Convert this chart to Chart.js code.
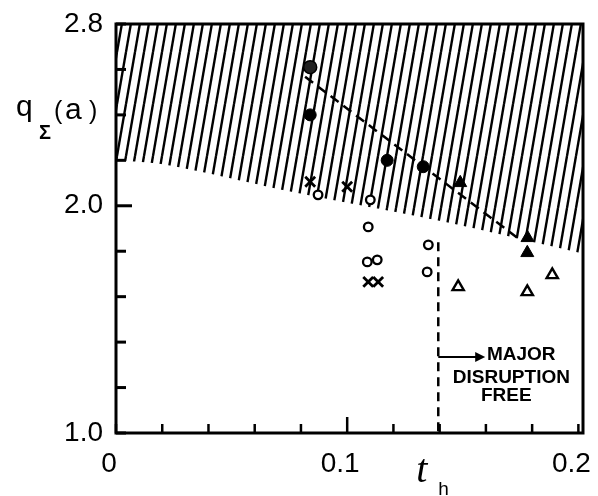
<!DOCTYPE html>
<html><head><meta charset="utf-8">
<script src="https://cdn.jsdelivr.net/npm/chart.js@4/dist/chart.umd.min.js"></script>
<style>html,body{margin:0;padding:0;background:#fff;}#wrap{width:598px;height:496px;}</style>
</head><body><div id="wrap"><canvas id="c" width="598" height="496"></canvas></div>
<script>
// ---- data ----
const xLabelValues = [0, 0.1, 0.2];
const xLabelTexts  = ['0', '0.1', '0.2'];
const yLabelValues = [1.0, 2.0, 2.8];
const yLabelTexts  = ['1.0', '2.0', '2.8'];
const hatchEdge = [{x:0,y:2.20},{x:0.022,y:2.18},{x:0.077,y:2.06},{x:0.142,y:1.93},{x:0.202,y:1.79}];
const slashedCircles = [{x:0.084,y:2.61}];
const filledCircles = [{x:0.084,y:2.40},{x:0.1173,y:2.20},{x:0.1329,y:2.172}];
const openCircles = [{x:0.0874,y:2.048},{x:0.110,y:2.026},{x:0.1091,y:1.907},{x:0.1351,y:1.828},{x:0.1087,y:1.753},{x:0.113,y:1.762},{x:0.1346,y:1.709}];
const crosses = [{x:0.084,y:2.106},{x:0.100,y:2.084},{x:0.1091,y:1.665},{x:0.1134,y:1.665}];
const filledTriangles = [{x:0.1489,y:2.101},{x:0.178,y:1.859},{x:0.1779,y:1.793}];
const openTriangles = [{x:0.148,y:1.643},{x:0.1779,y:1.621},{x:0.1887,y:1.696}];
const boundaryLine = [{x:0.0818,y:2.568},{x:0.1736,y:1.859}];
const thLine = [{x:0.1394,y:1.84},{x:0.1394,y:1.0}];
const thValue = 0.1394;
const arrow = {x0:0.1394, x1:0.1597, y:1.335};
const noteLines = [
  {text:'MAJOR', x:0.1753, y:1.343},
  {text:'DISRUPTION', x:0.171, y:1.244},
  {text:'FREE', x:0.1688, y:1.165}
];

// ---- hatch pattern ----
function makeHatch(){
  const t = document.createElement('canvas');
  t.width = 9; t.height = 52;
  const g = t.getContext('2d');
  g.strokeStyle = '#000'; g.lineWidth = 2.4;
  for (const off of [-9, 0, 9]) {
    g.beginPath(); g.moveTo(off, 52); g.lineTo(off + 9, 0); g.stroke();
  }
  return document.getElementById('c').getContext('2d').createPattern(t, 'repeat');
}
const hatch = makeHatch();

const near = (a, b) => Math.abs(a - b) < 1e-6;

const decor = {
  id: 'decor',
  afterDraw(chart) {
    const ctx = chart.ctx, a = chart.chartArea;
    const xs = chart.scales.x, ys = chart.scales.y;
    ctx.save();
    ctx.strokeStyle = '#000'; ctx.fillStyle = '#000';
    // frame
    ctx.lineWidth = 3;
    ctx.strokeRect(a.left, a.top, a.right - a.left, a.bottom - a.top);
    // inward ticks
    ctx.lineWidth = 3;
    ys.ticks.forEach(t => {
      const py = ys.getPixelForValue(t.value);
      const len = near(t.value, 2.0) ? 16 : 10;
      ctx.beginPath(); ctx.moveTo(a.left, py); ctx.lineTo(a.left + len, py); ctx.stroke();
    });
    ctx.lineWidth = 2.5;
    xs.ticks.forEach(t => {
      const px = xs.getPixelForValue(t.value);
      const len = near(t.value, 0.1) ? 16 : 9;
      ctx.beginPath(); ctx.moveTo(px, a.bottom); ctx.lineTo(px, a.bottom - len); ctx.stroke();
    });
    // y-axis title q_Σ(a)
    ctx.textBaseline = 'alphabetic'; ctx.textAlign = 'left';
    ctx.font = '30px "Liberation Sans"';
    ctx.fillText('q', 16, 116);
    ctx.font = 'bold 20px "Liberation Sans"';
    ctx.fillText('\u03A3', 39, 139);
    ctx.font = '25px "Liberation Sans"';
    ctx.fillText('(', 54, 119);
    ctx.font = '30px "Liberation Sans"';
    ctx.fillText('a', 65, 119);
    ctx.font = '25px "Liberation Sans"';
    ctx.fillText(')', 89, 119);
    // t_h label
    const thx = xs.getPixelForValue(thValue);
    ctx.font = 'italic 40px "Liberation Serif"';
    ctx.fillText('t', thx - 22, 482);
    ctx.font = '19px "Liberation Sans"';
    ctx.fillText('h', thx, 495);
    // arrow
    const ay = ys.getPixelForValue(arrow.y);
    const ax0 = xs.getPixelForValue(arrow.x0), ax1 = xs.getPixelForValue(arrow.x1);
    ctx.lineWidth = 2;
    ctx.beginPath(); ctx.moveTo(ax0, ay); ctx.lineTo(ax1 - 6, ay); ctx.stroke();
    ctx.beginPath(); ctx.moveTo(ax1, ay); ctx.lineTo(ax1 - 10, ay - 5); ctx.lineTo(ax1 - 10, ay + 5); ctx.closePath(); ctx.fill();
    // notes
    ctx.font = 'bold 19px "Liberation Sans"';
    ctx.textAlign = 'center'; ctx.textBaseline = 'middle';
    noteLines.forEach(n => ctx.fillText(n.text, xs.getPixelForValue(n.x), ys.getPixelForValue(n.y)));
    ctx.restore();
  }
};

function markers(data, style, radius, fill, bw, order) {
  return {type:'line', data, showLine:false, pointStyle:style, pointRadius:radius,
    pointBackgroundColor:fill, pointBorderColor:'#000', pointBorderWidth:bw, order};
}
function noPad(s){ s.paddingLeft = 0; s.paddingRight = 0; s.paddingTop = 0; s.paddingBottom = 0; }

new Chart(document.getElementById('c'), {
  type: 'line',
  data: {
    datasets: [
      {data: hatchEdge, borderWidth:0, borderColor:'rgba(0,0,0,0)', pointRadius:0, fill:'end', backgroundColor: hatch, order: 10, tension:0.3},
      {data: boundaryLine, borderColor:'#000', borderWidth:2.5, borderDash:[10,6], pointRadius:0, fill:false, order:5},
      {data: thLine, borderColor:'#000', borderWidth:2.5, borderDash:[9,6], pointRadius:0, fill:false, order:5},
      markers(slashedCircles, 'circle', 6.5, '#222', 1.5, 1),
      markers(filledCircles, 'circle', 6, '#000', 1, 1),
      markers(openCircles, 'circle', 4.3, '#fff', 2.3, 1),
      markers(crosses, 'crossRot', 7, '#000', 2.8, 1),
      markers(filledTriangles, 'triangle', 7.5, '#000', 1, 1),
      markers(openTriangles, 'triangle', 6.5, '#fff', 2.4, 1)
    ]
  },
  options: {
    responsive: false, animation: false, events: [],
    layout: {padding: {top:24, right:15, left:0, bottom:0}},
    plugins: {legend:{display:false}, tooltip:{enabled:false}},
    scales: {
      x: {type:'linear', min:0, max:0.202, border:{display:false}, grid:{display:false, drawTicks:false},
        ticks:{stepSize:0.02, includeBounds:false, autoSkip:false, maxRotation:0, minRotation:0, labelOffset:-7, padding:14, color:'#000',
          font:{family:'Liberation Sans', size:28},
          callback:(v)=>{ const i = xLabelValues.findIndex(t=>near(t,v)); return i>=0 ? xLabelTexts[i] : ''; }},
        afterFit:(s)=>{ s.height = 63; noPad(s); }},
      y: {type:'linear', min:1.0, max:2.8, border:{display:false}, grid:{display:false, drawTicks:false},
        ticks:{stepSize:0.2, autoSkip:false, padding:13, color:'#000',
          font:{family:'Liberation Sans', size:28},
          callback:(v)=>{ const i = yLabelValues.findIndex(t=>near(t,v)); return i>=0 ? yLabelTexts[i] : ''; }},
        afterFit:(s)=>{ s.width = 116; noPad(s); }}
    }
  },
  plugins: [decor]
});
</script></body></html>
